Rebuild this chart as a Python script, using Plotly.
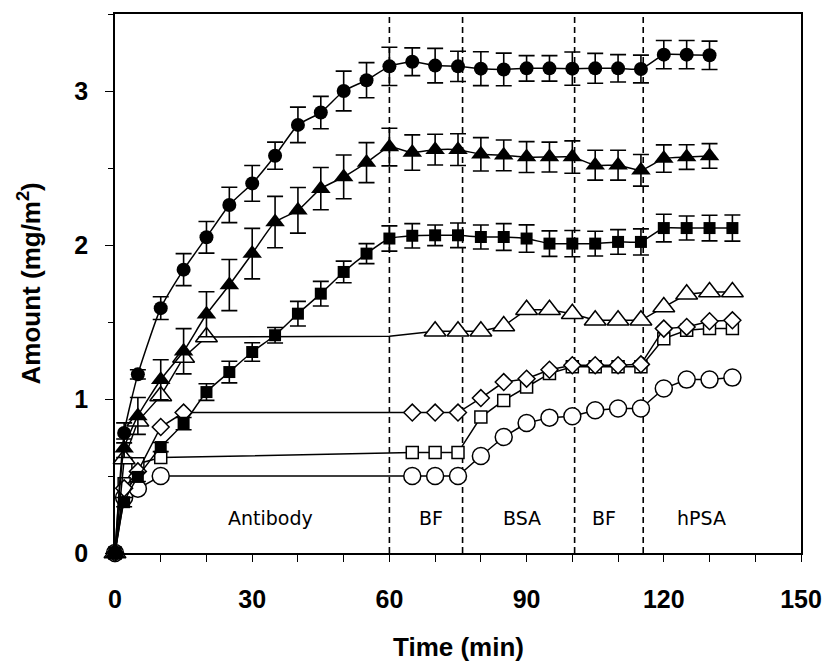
import plotly.graph_objects as go

# ---------------- data ----------------
t_fc = [0, 2, 5, 10, 15, 20, 25, 30, 35, 40, 45, 50, 55, 60, 65, 70, 75, 80, 85, 90, 95, 100, 105, 110, 115, 120, 125, 130]
y_fc = [0, 0.78, 1.16, 1.59, 1.84, 2.05, 2.26, 2.40, 2.58, 2.78, 2.86, 3.00, 3.07, 3.16, 3.19, 3.165, 3.16, 3.145, 3.14, 3.147, 3.147, 3.145, 3.147, 3.147, 3.143, 3.236, 3.236, 3.232]
e_fc = [0, 0.065, 0.03, 0.074, 0.104, 0.103, 0.115, 0.116, 0.088, 0.115, 0.105, 0.129, 0.114, 0.124, 0.09, 0.112, 0.098, 0.11, 0.106, 0.083, 0.083, 0.108, 0.097, 0.089, 0.09, 0.092, 0.092, 0.092]

t_ft = [0, 2, 5, 10, 15, 20, 25, 30, 35, 40, 45, 50, 55, 60, 65, 70, 75, 80, 85, 90, 95, 100, 105, 110, 115, 120, 125, 130]
y_ft = [0, 0.68, 0.89, 1.125, 1.31, 1.55, 1.74, 1.944, 2.149, 2.225, 2.366, 2.442, 2.535, 2.636, 2.60, 2.619, 2.619, 2.589, 2.582, 2.571, 2.571, 2.571, 2.518, 2.518, 2.485, 2.561, 2.571, 2.578]
e_ft = [0, 0.06, 0.12, 0.13, 0.147, 0.146, 0.166, 0.164, 0.167, 0.148, 0.137, 0.142, 0.13, 0.122, 0.115, 0.1, 0.103, 0.108, 0.1, 0.1, 0.097, 0.105, 0.097, 0.097, 0.103, 0.089, 0.08, 0.08]

t_fs = [0, 2, 5, 10, 15, 20, 25, 30, 35, 40, 45, 50, 55, 60, 65, 70, 75, 80, 85, 90, 95, 100, 105, 110, 115, 120, 125, 130, 135]
y_fs = [0, 0.33, 0.494, 0.688, 0.84, 1.045, 1.175, 1.305, 1.414, 1.554, 1.684, 1.825, 1.944, 2.042, 2.06, 2.063, 2.063, 2.052, 2.052, 2.042, 2.009, 2.009, 2.009, 2.02, 2.02, 2.11, 2.11, 2.11, 2.11]
e_fs = [0, 0.03, 0.03, 0.03, 0.04, 0.054, 0.07, 0.06, 0.05, 0.08, 0.08, 0.07, 0.065, 0.082, 0.079, 0.067, 0.08, 0.078, 0.087, 0.089, 0.083, 0.085, 0.08, 0.08, 0.085, 0.09, 0.078, 0.083, 0.085]

# open triangles: the 60-min entry carries the line only (no marker shown)
t_ot = [0, 2, 5, 10, 15, 20, 60, 70, 75, 80, 85, 90, 95, 100, 105, 110, 115, 120, 125, 130, 135]
y_ot = [0, 0.61, 0.855, 1.02, 1.27, 1.403, 1.407, 1.44, 1.44, 1.44, 1.474, 1.58, 1.58, 1.554, 1.511, 1.511, 1.511, 1.597, 1.68, 1.695, 1.695]
shown_ot = [1, 1, 1, 1, 1, 1, 0, 1, 1, 1, 1, 1, 1, 1, 1, 1, 1, 1, 1, 1, 1]

t_od = [0, 2, 5, 10, 15, 65, 70, 75, 80, 85, 90, 95, 100, 105, 110, 115, 120, 125, 130, 135]
y_od = [0, 0.42, 0.53, 0.818, 0.912, 0.912, 0.912, 0.912, 1.006, 1.11, 1.132, 1.19, 1.219, 1.219, 1.219, 1.225, 1.457, 1.468, 1.505, 1.511]

t_os = [0, 2, 5, 10, 65, 70, 75, 80, 85, 90, 95, 100, 105, 110, 115, 120, 125, 130, 135]
y_os = [0, 0.45, 0.58, 0.62, 0.652, 0.652, 0.652, 0.883, 0.991, 1.078, 1.165, 1.21, 1.21, 1.21, 1.21, 1.392, 1.446, 1.457, 1.457]

t_oc = [0, 2, 5, 10, 65, 70, 75, 80, 85, 90, 95, 100, 105, 110, 115, 120, 125, 130, 135]
y_oc = [0, 0.36, 0.418, 0.5, 0.5, 0.5, 0.5, 0.63, 0.753, 0.844, 0.879, 0.888, 0.927, 0.938, 0.938, 1.068, 1.126, 1.126, 1.139]

phase_bounds = [60, 76, 100.5, 115.5]
phase_names = ["Antibody", "BF", "BSA", "BF", "hPSA"]
phase_label_x = [34, 69, 89, 107, 128.3]
phase_label_y = 0.23

x_ticks = [0, 30, 60, 90, 120, 150]
y_ticks = [0, 1, 2, 3]
x_title = "Time (min)"
y_title = "Amount (mg/m<sup>2</sup>)"

# ---------------- figure ----------------
fig = go.Figure()


def add_open(t, y, symbol, size):
    fig.add_trace(go.Scatter(
        x=t, y=y, mode="lines+markers", cliponaxis=False,
        line=dict(color="black", width=1.5),
        marker=dict(symbol=symbol, size=size, color="white",
                    line=dict(color="black", width=1.5)),
        showlegend=False))


def add_filled(t, y, e, symbol, size):
    fig.add_trace(go.Scatter(
        x=t, y=y, mode="lines+markers", cliponaxis=False,
        error_y=dict(type="data", array=e, visible=True, color="black",
                     thickness=1.6, width=8),
        line=dict(color="black", width=1.5, shape="spline", smoothing=0.5),
        marker=dict(symbol=symbol, size=size, color="black",
                    line=dict(color="black", width=0)),
        showlegend=False))


add_open(t_oc, y_oc, "circle", 17)
add_open(t_os, y_os, "square", 12)
add_open(t_od, y_od, "diamond", 13)
# open triangles: line through all entries, markers only where shown
fig.add_trace(go.Scatter(x=t_ot, y=y_ot, mode="lines", cliponaxis=False,
                         line=dict(color="black", width=1.5), showlegend=False))
fig.add_trace(go.Scatter(
    x=[t for t, s in zip(t_ot, shown_ot) if s],
    y=[v for v, s in zip(y_ot, shown_ot) if s],
    mode="markers", cliponaxis=False,
    marker=dict(symbol="triangle-up", size=19, color="white",
                line=dict(color="black", width=1.5)),
    showlegend=False))
add_filled(t_fs, y_fs, e_fs, "square", 12)
add_filled(t_ft, y_ft, e_ft, "triangle-up", 17)
add_filled(t_fc, y_fc, e_fc, "circle", 14)

for xb in phase_bounds:
    fig.add_shape(type="line", xref="x", yref="paper", x0=xb, x1=xb, y0=0, y1=1,
                  line=dict(color="black", width=1.6, dash="6px,4px"), layer="below")

for name, xl in zip(phase_names, phase_label_x):
    fig.add_annotation(x=xl, y=phase_label_y, xref="x", yref="y", text=name,
                       showarrow=False,
                       font=dict(family="DejaVu Sans", size=19, color="black"))

tickfont = dict(family="Liberation Sans, Arial", size=25, color="black", weight="bold")
titlefont = dict(family="Liberation Sans, Arial", size=26, color="black", weight="bold")

fig.update_xaxes(
    range=[0, 150], tickvals=x_ticks, showgrid=False, zeroline=False,
    showline=True, linecolor="black", linewidth=1.5, mirror=True,
    ticks="outside", ticklen=7, tickwidth=1.2, tickcolor="black",
    minor=dict(dtick=10, ticks="outside", ticklen=7, tickwidth=1.2, tickcolor="black", showgrid=False),
    tickfont=tickfont, ticklabelstandoff=16, automargin=False)
fig.update_yaxes(
    range=[0, 3.5], tickvals=y_ticks, showgrid=False, zeroline=False,
    showline=True, linecolor="black", linewidth=1.5, mirror=True,
    ticks="outside", ticklen=8, tickwidth=1.2, tickcolor="black",
    minor=dict(dtick=0.5, ticks="outside", ticklen=5, tickwidth=1.2, tickcolor="black", showgrid=False),
    tickfont=tickfont, ticklabelstandoff=12, automargin=False)

fig.add_annotation(text=x_title, xref="paper", yref="paper", x=0.5, y=-0.175,
                   xanchor="center", yanchor="middle", showarrow=False, font=titlefont)
fig.add_annotation(text=y_title, xref="paper", yref="paper", x=-0.124, y=0.5,
                   xanchor="center", yanchor="middle", textangle=-90,
                   showarrow=False, font=titlefont)

fig.update_layout(
    width=824, height=661,
    margin=dict(l=115, r=23, t=14, b=108),
    paper_bgcolor="white", plot_bgcolor="white",
    showlegend=False)

fig.write_html("out.html", config={"displayModeBar": False},
               post_script="document.body.style.margin='0';document.body.style.overflow='hidden';")
